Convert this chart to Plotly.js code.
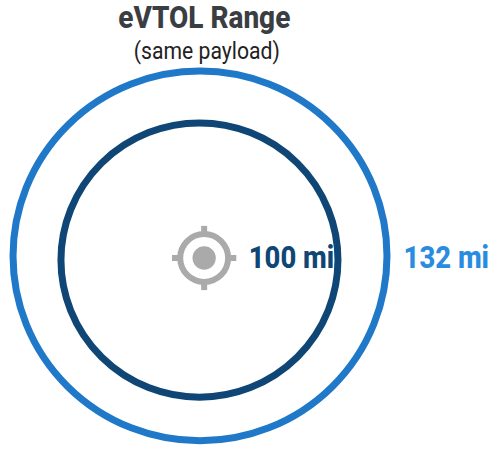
<!DOCTYPE html>
<html><head><meta charset="utf-8">
<script src="https://cdn.plot.ly/plotly-3.0.1.min.js"></script>
<style>html,body{margin:0;padding:0;background:#fff}</style></head>
<body><div id="chart" style="width:493px;height:449px"></div>
<script>
const aircraft = ["Inner", "Outer"];
const rangeMiles = [100, 132];
const rangeLabels = ["100 mi", "132 mi"];
const ringColors = ["#0f4675", "#1f78c8"];
const labelColors = ["#0f4675", "#2a8ce0"];
const ringRadiusX = [100, 135];
const ringRadiusY = [99, 133.5];
const ringCenterX = [-0.4, 0];
const ringCenterY = [-1.5, 1.5];
const labelX = [35.2, 147];
const labelY = [-1.2, -1.2];
const labelWidths = [85.5, 85.5];
const titleText = "eVTOL Range";
const subtitleText = "(same payload)";

const W = 493, H = 449, S = 1.385, CX = 200, CY = 258;
const xr = [-CX / S, (W - CX) / S], yr = [-(H - CY) / S, CY / S];
const TX = 3;   // target centre in miles

const shapes = [];
aircraft.forEach((a, i) => {
  shapes.push({type: "circle", xref: "x", yref: "y",
    x0: ringCenterX[i] - ringRadiusX[i], x1: ringCenterX[i] + ringRadiusX[i],
    y0: ringCenterY[i] - ringRadiusY[i], y1: ringCenterY[i] + ringRadiusY[i],
    line: {color: ringColors[i], width: 7}, fillcolor: "rgba(0,0,0,0)"});
});
const gray = "#aaaaaa";
[[1,0],[-1,0],[0,1],[0,-1]].forEach(d => {
  shapes.push({type: "line", xref: "x", yref: "y",
    x0: TX + d[0]*16, x1: TX + d[0]*23.2, y0: d[1]*16, y1: d[1]*23.2,
    line: {color: gray, width: 6}});
});
shapes.push({type: "circle", xref: "x", yref: "y", x0: TX-17.3, x1: TX+17.3, y0: -17.3, y1: 17.3,
  line: {color: gray, width: 6}, fillcolor: "rgba(0,0,0,0)"});
shapes.push({type: "circle", xref: "x", yref: "y", x0: TX-8.4, x1: TX+8.4, y0: -8.4, y1: 8.4,
  line: {width: 0}, fillcolor: gray});

const traces = aircraft.map((a, i) => ({
  type: "scatter", mode: "text", name: a, x: [labelX[i]], y: [labelY[i]],
  text: [rangeLabels[i]], textposition: "middle right",
  textfont: {family: "Roboto", size: 32, weight: 800, color: labelColors[i]},
  hoverinfo: "skip", showlegend: false, cliponaxis: false
}));

function squeeze(el, width) {
  el.setAttribute("textLength", width);
  el.setAttribute("lengthAdjust", "spacingAndGlyphs");
}
function narrow(el, width) {
  const x = parseFloat(el.getAttribute("x")) || 0;
  const k = width / el.getComputedTextLength();
  el.setAttribute("transform", "translate(" + x + ",0) scale(" + k + ",1) translate(" + (-x) + ",0)");
}

Plotly.newPlot("chart", traces, {
  width: W, height: H, margin: {l:0,r:0,t:0,b:0},
  paper_bgcolor: "#fff", plot_bgcolor: "#fff", showlegend: false,
  xaxis: {range: xr, visible: false, fixedrange: true},
  yaxis: {range: yr, visible: false, fixedrange: true},
  shapes: shapes,
  annotations: [
    {xref:"paper", yref:"paper", x:204/W, y:1-18/H, text:titleText, showarrow:false,
     font:{family:"Roboto", size:31, weight:800, color:"#3a3d42"}, xanchor:"center", yanchor:"middle"},
    {xref:"paper", yref:"paper", x:207/W, y:1-51/H, text:subtitleText, showarrow:false,
     font:{family:"Roboto", size:24, color:"#222222"}, xanchor:"center", yanchor:"middle"}
  ]
}, {staticPlot:true, displayModeBar:false}).then(gd => {
  gd.querySelectorAll(".textpoint text").forEach((t, i) => narrow(t, labelWidths[i]));
  const ann = gd.querySelectorAll(".annotation-text");
  squeeze(ann[0], 172);
  squeeze(ann[1], 146);
});
</script></body></html>
